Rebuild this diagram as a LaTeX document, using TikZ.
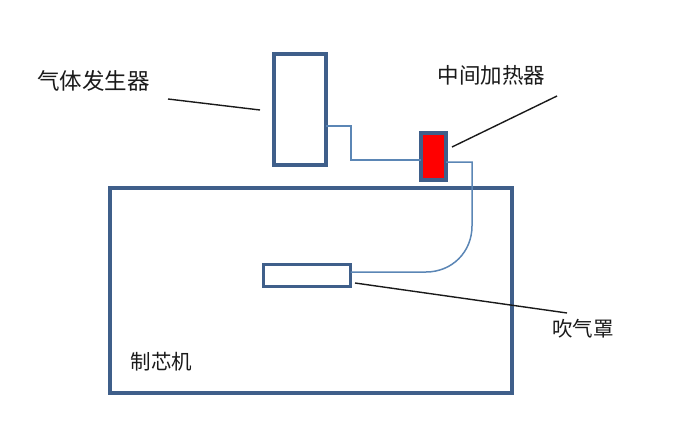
\documentclass[tikz,border=0pt]{standalone}
\usepackage{fontspec}
\newfontfamily\cjk{Noto Sans CJK SC}
\definecolor{boxblue}{HTML}{3F5F8A}
\definecolor{pipeblue}{HTML}{5B86B5}
\definecolor{txt}{HTML}{1A1A1A}
\begin{document}
\begin{tikzpicture}[x=1pt,y=-1pt,
  unit/.style={draw=boxblue,line width=4pt,inner sep=0pt,outer sep=0pt,minimum width=#1},
  pipe/.style={draw=pipeblue,line width=1.5pt},
  leader/.style={draw=txt,line width=1.4pt},
  lbl/.style={font=\cjk\fontsize{21.5}{24}\selectfont,text=txt,inner sep=0pt}]
\useasboundingbox (0,0) rectangle (693,441);
% units
\node[unit=52pt,minimum height=111pt] (gas) at (300,109.5) {};
\node[unit=25pt,minimum height=47pt,fill=red] (heater) at (433.5,156.5) {};
\node[unit=402pt,minimum height=205pt] (machine) at (311,290.5) {};
\node[unit=87pt,minimum height=22pt,line width=2.6pt,fill=white] (hood) at (307,275.5) {};
% pipes
\coordinate (p1a) at (351,126);
\coordinate (p1b) at (351,160);
\draw[pipe] (p1a -| gas.east) -- (p1a) -- (p1b) -- (p1b -| heater.west);
\coordinate (p2a) at (472,162);
\coordinate (p2b) at (472,226);
\coordinate (p2c) at (426,272);
\draw[pipe] (p2a -| heater.east) -- (p2a) -- (p2b) .. controls (472,252) and (452,272) .. (p2c) -- (p2c -| hood.east);
% labels
\node[lbl,font=\cjk\fontsize{22.5}{25}\selectfont] (lgas) at (93.5,81) {气体发生器};
\node[lbl] (lheater) at (491.5,75) {中间加热器};
\node[lbl,font=\cjk\fontsize{20.5}{23}\selectfont] (lhood) at (583,329) {吹气罩};
\node[lbl,font=\cjk\fontsize{20.5}{23}\selectfont] (lmachine) at (161.5,362) {制芯机};
% leader lines
\coordinate (g1) at (168,99);
\coordinate (g2) at (260,110);
\draw[leader] (g1) -- (g2);
\coordinate (h1) at (452,147);
\coordinate (h2) at (557,96);
\draw[leader] (h1) -- (h2);
\coordinate (b1) at (355,283);
\coordinate (b2) at (567,313);
\draw[leader] (b1) -- (b2);
\end{tikzpicture}
\end{document}
